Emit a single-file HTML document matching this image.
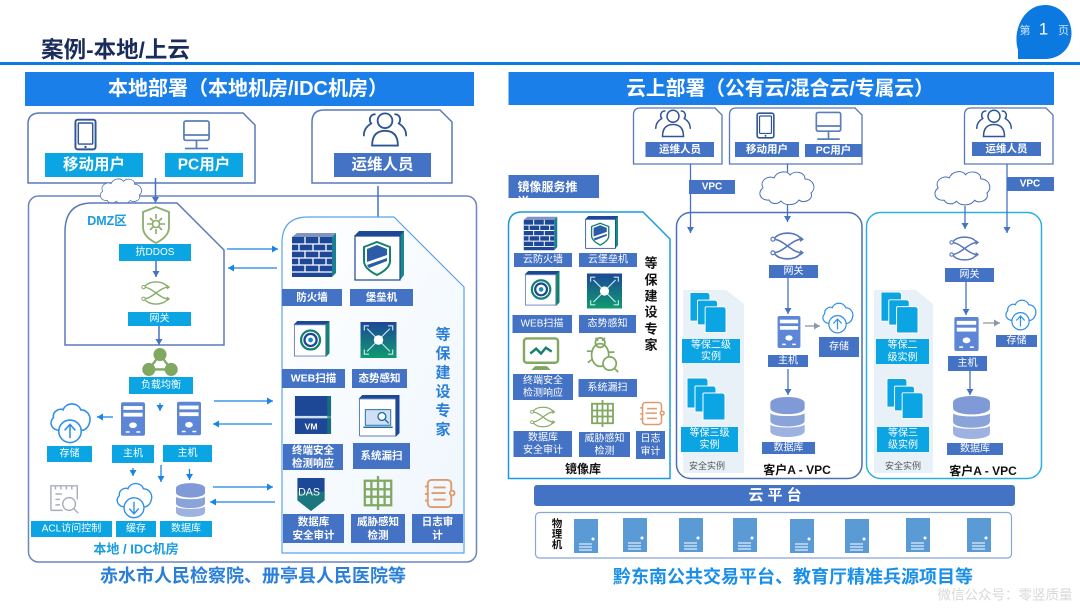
<!DOCTYPE html>
<html lang="zh"><head><meta charset="utf-8"><style>
html,body{margin:0;padding:0;background:#fff}
svg{display:block}
text{font-family:"Liberation Sans","Noto Sans CJK SC",sans-serif;text-anchor:middle;dominant-baseline:central}
.w{fill:#fff;font-size:10px}
.b{font-weight:700}
.m{fill:#fff;font-size:10.5px}
</style></head><body>
<svg width="1080" height="608" viewBox="0 0 1080 608" xmlns="http://www.w3.org/2000/svg">
<defs>
<marker id="a" markerUnits="userSpaceOnUse" markerWidth="8" markerHeight="8" refX="6" refY="3.5" orient="auto"><path d="M0 0L6 3.5L0 7z" fill="#1a84e6"/></marker>
<marker id="n" markerUnits="userSpaceOnUse" markerWidth="8" markerHeight="8" refX="6" refY="3.5" orient="auto"><path d="M0 0L6 3.5L0 7z" fill="#4472c4"/></marker>
<marker id="g" markerUnits="userSpaceOnUse" markerWidth="8" markerHeight="8" refX="6" refY="3.5" orient="auto"><path d="M0 0L6 3.5L0 7z" fill="#8a97a8"/></marker>
<linearGradient id="pane" x1="0" y1="0" x2="1" y2="1"><stop offset="0" stop-color="#fff"/><stop offset="1" stop-color="#eef6fd"/></linearGradient>
<symbol id="people" viewBox="0 0 50 40"><g fill="none" stroke="#2f5597" stroke-width="2"><circle cx="25" cy="11" r="8"/><path d="M11 38c0-12 6-16 14-16s14 4 14 16z"/><path d="M14 4c-5 0-7 6-4 10-5 3-8 7-8 13M36 4c5 0 7 6 4 10 5 3 8 7 8 13" stroke-linecap="round"/></g></symbol>
<symbol id="tablet" viewBox="0 0 24 34"><rect x="1.5" y="1.5" width="21" height="31" rx="2.5" fill="#fff" stroke="#2f5597" stroke-width="2"/><rect x="4.5" y="5" width="15" height="22" rx="1" fill="#fff" stroke="#2f5597" stroke-width="1.5"/><circle cx="12" cy="30" r="1.2" fill="#2f5597"/></symbol>
<symbol id="pc" viewBox="0 0 30 32"><g fill="none" stroke="#5b7fb8" stroke-width="1.8"><rect x="2" y="1.5" width="26" height="20" rx="2"/><path d="M2 16h26M15 22v7M3 30h24"/></g></symbol>
<symbol id="firewall" viewBox="0 0 46 46"><path d="M1 5L6 1H45L41 5z" fill="#7f95c0"/><path d="M41 5L45 1V41L41 45z" fill="#1a7f92"/><rect x="1" y="5" width="40" height="40" fill="#1d4797"/><path d="M1 12h40M1 19h40M1 26h40M1 33h40M1 40h40M14 5v7M28 5v7M8 12v7M22 12v7M35 12v7M14 19v7M28 19v7M8 26v7M22 26v7M35 26v7M14 33v7M28 33v7" stroke="#fff" stroke-width="1.3"/></symbol>
<symbol id="bastion" viewBox="0 0 50 50"><path d="M0 5L5 0H50V44L46 49H46V5z" fill="#1d4797"/><path d="M46 5L50 0V44L46 49z" fill="#178a8c"/><rect x="1" y="5" width="45" height="44" fill="#fff" stroke="#1d4797" stroke-width="1.2"/><path d="M23 11l13 5v14c0 6-7 11-13 14-6-3-13-8-13-14V16z" fill="#fff" stroke="#14806e" stroke-width="2"/><path d="M23 14l10 4v6l-20 7v-13z" fill="#2c5ca8"/><path d="M13 34l20-7v3l-18 7z" fill="#2c5ca8"/></symbol>
<symbol id="web" viewBox="0 0 38 38"><path d="M0 4L4 0H38V34L34 38V4z" fill="#1d4797"/><path d="M34 4L38 0V34L34 38z" fill="#14806e"/><rect x="1" y="4" width="33" height="33" fill="#fff" stroke="#6a85c0"/><circle cx="18" cy="20" r="10" fill="none" stroke="#14806e" stroke-width="2.4"/><circle cx="18" cy="20" r="6.4" fill="none" stroke="#1d4797" stroke-width="2.4"/><circle cx="18" cy="20" r="2.5" fill="#1589b8"/></symbol>
<symbol id="aware" viewBox="0 0 38 38"><defs><linearGradient id="gaw" x1="0" y1="0" x2="0" y2="1"><stop offset="0" stop-color="#1d4797"/><stop offset="1" stop-color="#0e9c6e"/></linearGradient></defs><rect width="38" height="38" fill="url(#gaw)"/><g stroke="#cfe6f4" stroke-width="1.2" fill="none"><path d="M19 19L7 7M19 19L31 7M19 19L7 31M19 19L31 31M4 9V4h5M34 9V4h-5M4 29v5h5M34 29v5h-5"/></g><circle cx="19" cy="19" r="5" fill="#fff"/></symbol>
<symbol id="vm" viewBox="0 0 38 40"><rect y="0" width="38" height="21" fill="#1d4797"/><rect y="21" width="38" height="2.5" fill="#cfe0ee"/><rect y="23.5" width="38" height="16.5" fill="#1d4797"/><path d="M34 0h4v40h-4z" fill="#14806e" opacity=".7"/><text x="17" y="32" font-size="9" font-weight="700" fill="#fff">VM</text></symbol>
<symbol id="scan" viewBox="0 0 42 43"><path d="M0 4L4 0H42V39L38 43V4z" fill="#1d4797"/><rect x="1" y="4" width="37" height="38" rx="1" fill="#fff" stroke="#5b7fb8"/><rect x="7" y="15" width="26" height="16" fill="#cfe0f5" stroke="#1d6fa5"/><path d="M5 33h30" stroke="#1d6fa5" stroke-width="1.6"/><circle cx="24" cy="22" r="4" fill="#fff" stroke="#1d6fa5" stroke-width="1.4"/><path d="M27 25l4 4" stroke="#1d6fa5" stroke-width="1.4"/></symbol>
<symbol id="das" viewBox="0 0 28 34"><path d="M0 0H28V23L14 34L0 23z" fill="#1d4797"/><path d="M0 14H28V23L14 34L0 23z" fill="#1d8a72" opacity=".7"/><text x="12" y="15" font-size="11" fill="#fff">DAS</text></symbol>
<symbol id="threat" viewBox="0 0 32 36"><g fill="none" stroke="#80a860" stroke-width="2.4"><rect x="2" y="5" width="28" height="26"/><path d="M16 0v36M9 5v26M23 5v26M2 14h6M2 22h6M24 14h6M24 22h6M10 14h12M10 22h12"/></g></symbol>
<symbol id="log" viewBox="0 0 33 33"><g fill="none" stroke="#e09a6c" stroke-width="2"><rect x="4" y="2" width="25" height="29" rx="4"/><path d="M10 10h13M8 16h15M10 23h13M1 9h4M1 17h4M1 24h4"/><circle cx="30" cy="16" r="2.5" fill="#fff"/></g></symbol>
<symbol id="shield" viewBox="0 0 30 38"><path d="M15 1l13 5v15c0 8-7 13-13 16C9 34 2 29 2 21V6z" fill="#fff" stroke="#8aad6c" stroke-width="1.8"/><circle cx="15" cy="18" r="3.5" fill="none" stroke="#8aad6c" stroke-width="1.6"/><path d="M15 8v5M15 23v5M6 18h5M19 18h5M9 12l3 3M21 12l-3 3M9 24l3-3M21 24l-3-3" stroke="#8aad6c" stroke-width="1.6"/></symbol>
<symbol id="gw" viewBox="0 0 36 30"><path d="M3 8C14 8 22 22 33 22M3 22C14 22 22 8 33 8M5 7C9 0 27 0 31 7M5 23C9 30 27 30 31 23" fill="none" stroke="currentColor" stroke-width="1.7"/><circle cx="3" cy="8" r="2" fill="#fff" stroke="currentColor" stroke-width="1.2"/><circle cx="3" cy="22" r="2" fill="#fff" stroke="currentColor" stroke-width="1.2"/><path d="M31 5l4 3-4 3zM31 19l4 3-4 3z" fill="currentColor"/></symbol>
<symbol id="lb" viewBox="0 0 38 30"><path d="M19 7L7 23H31z" fill="none" stroke="#80a860" stroke-width="2.5"/><circle cx="19" cy="7" r="7" fill="#80a860"/><circle cx="7" cy="23" r="7" fill="#80a860"/><circle cx="31" cy="23" r="7" fill="#80a860"/></symbol>
<symbol id="srv" viewBox="0 0 25 35"><rect width="25" height="35" rx="2" fill="#5d86d6"/><rect x="2.5" y="4" width="20" height="4" fill="#fff"/><rect x="2.5" y="11" width="20" height="4" fill="#fff"/><ellipse cx="12.5" cy="24" rx="4" ry="3" fill="#fff"/><path d="M5 31h4M16 31h4" stroke="#fff" stroke-width="1.6"/></symbol>
<symbol id="db" viewBox="0 0 36 42"><path d="M0 6a18 6 0 0 1 36 0v6a18 6 0 0 1-36 0z" fill="#7f9ad6"/><path d="M0 17c4 4 32 4 36 0v8c0 8-36 8-36 0z" fill="#8aa4da"/><path d="M0 29c4 4 32 4 36 0v7c0 8-36 8-36 0z" fill="#9db2e0"/></symbol>
<symbol id="cup" viewBox="0 0 44 44"><path d="M12 30C3 30 0 22 5 17 4 10 12 7 15 9 18 1 30 1 33 9 40 9 44 16 42 22 41 27 37 30 34 30" fill="#fff" stroke="#2f8fe8" stroke-width="1.6"/><circle cx="22" cy="31" r="11.5" fill="#fff" stroke="#2f8fe8" stroke-width="1.6"/><path d="M22 38V25M16.5 30l5.500-6 5.500 6" fill="none" stroke="#2f8fe8" stroke-width="1.6"/></symbol>
<symbol id="cdn" viewBox="0 0 44 44"><path d="M12 30C3 30 0 22 5 17 4 10 12 7 15 9 18 1 30 1 33 9 40 9 44 16 42 22 41 27 37 30 34 30" fill="#fff" stroke="#2f8fe8" stroke-width="1.6"/><circle cx="22" cy="31" r="11.500" fill="#fff" stroke="#2f8fe8" stroke-width="1.6"/><path d="M22 24V37M16.500 32l5.500 6 5.500-6" fill="none" stroke="#2f8fe8" stroke-width="1.6"/></symbol>
<symbol id="cloud" viewBox="0 0 60 38"><path d="M12 32C3 33 0 24 6 20 2 12 12 7 17 10 20 3 30 2 33 7 38 2 48 4 48 11 56 11 60 20 54 25 57 32 46 36 42 32 38 38 28 38 24 33 20 37 14 36 12 32Z" fill="#fff" stroke="#4a6fb5" stroke-width="1"/></symbol>
<symbol id="acl" viewBox="0 0 33 33"><g fill="none" stroke="#a8aec0" stroke-width="1.6"><path d="M1 29V2h29v15M1 29h13M6 2v4M12 2v4M18 2v4M24 2v4M6 11h7M6 17h5M6 23h5"/><circle cx="21" cy="22" r="7"/><path d="M26 27l5 5"/></g></symbol>
<symbol id="term" viewBox="0 0 38 36"><rect x="1.500" y="1.500" width="35" height="25" rx="3" fill="#fff" stroke="#80a860" stroke-width="2.500"/><path d="M8 17l6-5 5 5 5-6 6 4" fill="none" stroke="#14806e" stroke-width="2.500"/><path d="M13 30h12l4 4H9z" fill="#80a860"/></symbol>
<symbol id="bug" viewBox="0 0 34 40"><g fill="none" stroke="#80a860" stroke-width="1.800"><ellipse cx="14" cy="20" rx="9" ry="12"/><circle cx="14" cy="7" r="5"/><circle cx="24" cy="29" r="7" fill="#fff"/><path d="M9 2l3 3M19 2l-3 3M5 16H0M5 25l-4 3M29 34l4 4M23 17h6"/></g></symbol>
<symbol id="stack" viewBox="0 0 40 44"><g fill="#0aa5e2" stroke="#fff" stroke-width="1"><path d="M1 2q0-1 1-1h17q3 0 3 3v27H1z"/><path d="M9 10q0-1 1-1h17q3 0 3 3v23H9z"/><path d="M17 17q0-1 1-1h18q3 0 3 3v24H17z"/></g></symbol>
<symbol id="ps" viewBox="0 0 24 34"><rect width="24" height="34" fill="#5b9bd5"/><circle cx="19" cy="20" r="1.500" fill="#fff"/><path d="M5 25h13M5 28h13M5 31h13" stroke="#fff"/></symbol>
</defs>
<rect width="1080" height="608" fill="#fff"/>

<!-- top -->
<text x="115.500" y="50" font-size="22.500" class="b" fill="#1a2c5c">案例-本地/上云</text>
<rect y="62" width="1080" height="3" fill="#0b79e0"/>
<path d="M1018 58V50C1012 30 1024 5 1045 5C1062 5 1071.500 20 1071.500 33C1071.500 48 1060 59 1045 59H1018z" fill="#0b79e0"/>
<text x="1025" y="31" font-size="11" fill="#cfe6fa">第</text><text x="1043.500" y="29" font-size="17" fill="#fff">1</text><text x="1063.500" y="31" font-size="11" fill="#cfe6fa">页</text>

<!-- left header -->
<rect x="25" y="72" width="449" height="34" fill="#1a7fe8"/>
<text x="248" y="89" font-size="20" class="b" fill="#fff">本地部署（本地机房/IDC机房）</text>

<!-- user boxes -->
<path d="M28 183V124Q28 113 40 113H243L255 125V183z" fill="#fff" stroke="#5878bb" stroke-width="1.500"/>
<use href="#tablet" x="74" y="118" width="23" height="33"/>
<use href="#pc" x="182" y="119" width="29" height="32"/>
<rect x="45" y="153" width="98" height="24" fill="#0aa5e2"/><text x="94" y="165" font-size="15.500" class="b" fill="#fff">移动用户</text>
<rect x="165" y="153" width="78" height="24" fill="#0aa5e2"/><text x="204" y="165" font-size="15.500" class="b" fill="#fff">PC用户</text>
<path d="M312 183V122Q312 110 324 110H440L452 122V183z" fill="#fff" stroke="#5878bb" stroke-width="1.500"/>
<use href="#people" x="362" y="110" width="46" height="38"/>
<rect x="334" y="153" width="97" height="24" fill="#4472c4"/><text x="382.500" y="165" font-size="15.500" class="b" fill="#fff">运维人员</text>

<!-- main frame -->
<rect x="28.500" y="196" width="448" height="366" rx="10" fill="#fff" stroke="#6a85c0" stroke-width="1.500"/>
<use href="#cloud" x="92" y="176" width="58" height="29"/>
<line x1="155.500" y1="178" x2="155.500" y2="203" stroke="#4472c4" stroke-width="1.500" marker-end="url(#n)"/>
<line x1="378" y1="186" x2="378" y2="225" stroke="#4472c4" stroke-width="1.500" marker-end="url(#n)"/>

<!-- DMZ -->
<path d="M65 345V232Q65 203 92 203H177L224 250V345z" fill="#fff" stroke="#5878bb" stroke-width="1.500"/>
<text x="107" y="221" font-size="12.500" class="b" fill="#1a9be0">DMZ区</text>
<use href="#shield" x="141" y="206" width="30" height="38"/>
<rect x="119" y="244" width="72" height="17" fill="#0aa5e2"/><text x="155" y="252.500" class="w">抗DDOS</text>
<line x1="156" y1="261" x2="156" y2="277" stroke="#4472c4" stroke-width="1.500" marker-end="url(#n)"/>
<use href="#gw" x="141" y="280" width="30" height="26" color="#8aad6c"/>
<rect x="128" y="312" width="63" height="14" fill="#0aa5e2"/><text x="159.500" y="319" class="w">网关</text>
<line x1="159" y1="326" x2="159" y2="345" stroke="#4472c4" stroke-width="1.500" marker-end="url(#n)"/>
<use href="#lb" x="141" y="348" width="38" height="28"/>
<rect x="129" y="377" width="64" height="17" fill="#0aa5e2"/><text x="161" y="385.500" class="w">负载均衡</text>

<use href="#srv" x="121" y="402" width="24" height="34"/>
<use href="#srv" x="177" y="401" width="24" height="35"/>
<rect x="112" y="445" width="42" height="18" fill="#0aa5e2"/><text x="133" y="454" class="w">主机</text>
<rect x="163" y="445" width="49" height="17" fill="#0aa5e2"/><text x="187.500" y="453.500" class="w">主机</text>
<use href="#cup" x="48" y="401" width="44" height="43"/>
<rect x="47" y="446" width="45" height="16" fill="#0aa5e2"/><text x="69.500" y="454" class="w">存储</text>
<g stroke="#1a84e6" stroke-width="1.300" fill="none">
<line x1="113" y1="417" x2="97" y2="417" marker-end="url(#a)"/>
<line x1="160" y1="403" x2="160" y2="411" marker-end="url(#a)"/>
<line x1="133" y1="468" x2="133" y2="476" marker-end="url(#a)"/>
<line x1="161" y1="465" x2="161" y2="482" marker-end="url(#a)"/>
<line x1="189.500" y1="469" x2="189.500" y2="480" marker-end="url(#a)"/>
<line x1="227" y1="249" x2="278" y2="249" marker-end="url(#a)"/>
<line x1="277" y1="268" x2="228" y2="268" marker-end="url(#a)"/>
<line x1="214" y1="401" x2="273" y2="401" marker-end="url(#a)"/>
<line x1="272" y1="424" x2="213" y2="424" marker-end="url(#a)"/>
<line x1="213" y1="487" x2="273" y2="487" marker-end="url(#a)"/>
<line x1="275" y1="502" x2="210" y2="502" marker-end="url(#a)"/>
</g>
<use href="#acl" x="49" y="484" width="32" height="30"/>
<rect x="31" y="521" width="81" height="16" fill="#0aa5e2"/><text x="71.500" y="529" class="w">ACL访问控制</text>
<use href="#cdn" x="113" y="481" width="42" height="38"/>
<rect x="116" y="521" width="40" height="16" fill="#0aa5e2"/><text x="136" y="529" class="w">缓存</text>
<use href="#db" x="176" y="483" width="29" height="34"/>
<rect x="160" y="521" width="52" height="16" fill="#0aa5e2"/><text x="186" y="529" class="w">数据库</text>
<text x="136" y="549" font-size="13" class="b" fill="#1a9be0">本地 / IDC机房</text>

<!-- security pane left -->
<path d="M282 553V243Q282 217 308 217H394L464 287V553z" fill="url(#pane)" stroke="#5aa5e8" stroke-width="1.200"/>
<use href="#firewall" x="291" y="232" width="46" height="46"/>
<use href="#bastion" x="354" y="231" width="50" height="50"/>
<rect x="282" y="289" width="60" height="17" fill="#4472c4"/><text x="312" y="297.500" class="m b">防火墙</text>
<rect x="350" y="289" width="63" height="17" fill="#4472c4"/><text x="381.500" y="297.500" class="m b">堡垒机</text>
<use href="#web" x="293" y="321" width="37" height="36"/>
<use href="#aware" x="360" y="322" width="37" height="36"/>
<rect x="282" y="369" width="63" height="19" fill="#4472c4"/><text x="313.500" y="378.500" class="m b">WEB扫描</text>
<rect x="352" y="369" width="55" height="19" fill="#4472c4"/><text x="379.500" y="378.500" class="m b">态势感知</text>
<use href="#vm" x="294" y="396" width="38" height="38"/>
<use href="#scan" x="358" y="395" width="42" height="42"/>
<rect x="283" y="444" width="60" height="26" fill="#4472c4"/><text x="313" y="450.500" class="m b">终端安全</text><text x="313" y="463.500" class="m b">检测响应</text>
<rect x="353" y="443" width="57" height="26" fill="#4472c4"/><text x="381.500" y="456" class="m b">系统漏扫</text>
<use href="#das" x="297" y="478" width="28" height="33"/>
<use href="#threat" x="362" y="476" width="32" height="34"/>
<use href="#log" x="423" y="478" width="33" height="31"/>
<rect x="283" y="514" width="61" height="29" fill="#4472c4"/><text x="313.500" y="522" class="m b">数据库</text><text x="313.500" y="535.500" class="m b">安全审计</text>
<rect x="351" y="514" width="54" height="29" fill="#4472c4"/><text x="378" y="522" class="m b">威胁感知</text><text x="378" y="535.500" class="m b">检测</text>
<rect x="412" y="514" width="51" height="29" fill="#4472c4"/><text x="437.500" y="522" class="m b">日志审</text><text x="437.500" y="535.500" class="m b">计</text>
<g font-size="15" class="b" fill="#2a7fd8"><text x="443" y="335">等</text><text x="443" y="354">保</text><text x="443" y="373">建</text><text x="443" y="392">设</text><text x="443" y="411">专</text><text x="443" y="430">家</text></g>

<text x="253" y="576" font-size="18" class="b" fill="#2a7fd8">赤水市人民检察院、册亭县人民医院等</text>

<!-- right header -->
<rect x="508.500" y="72" width="545.500" height="33" fill="#1a7fe8"/>
<text x="780" y="89" font-size="19.800" class="b" fill="#fff">云上部署（公有云/混合云/专属云）</text>

<!-- right user boxes -->
<path d="M633.500 164V115Q633.500 108 640 108H715L722 115V164z" fill="#fff" stroke="#5878bb" stroke-width="1.300"/>
<use href="#people" x="654" y="108" width="38" height="30"/>
<rect x="645.500" y="142" width="68.500" height="15" fill="#4472c4"/><text x="680" y="149.500" class="m b">运维人员</text>
<path d="M729.500 164V115Q729.500 108 736 108H855L862 115V164z" fill="#fff" stroke="#5878bb" stroke-width="1.300"/>
<use href="#tablet" x="752" y="112" width="27" height="27"/>
<use href="#pc" x="810" y="111" width="37" height="30"/>
<rect x="735" y="142" width="64" height="15" fill="#4472c4"/><text x="767" y="149.500" class="m b">移动用户</text>
<rect x="805" y="144" width="57" height="13" fill="#4472c4"/><text x="833.500" y="150.500" class="m b">PC用户</text>
<path d="M964.500 164V115Q964.500 108 971 108H1046L1053 115V164z" fill="#fff" stroke="#5878bb" stroke-width="1.300"/>
<use href="#people" x="975" y="108" width="38" height="30"/>
<rect x="972" y="142" width="69" height="14" fill="#4472c4"/><text x="1006.500" y="149" class="m b">运维人员</text>

<!-- mirror label -->
<svg x="508.500" y="175" width="90.500" height="23" viewBox="0 0 90.500 23"><rect width="90.500" height="23" fill="#4472c4"/><text x="9" y="12" font-size="12" class="b" fill="#fff" style="text-anchor:start">镜像服务推</text><text x="9" y="27" font-size="12" class="b" fill="#fff" style="text-anchor:start">送</text></svg>

<!-- panels -->
<path d="M508.500 478.500V226Q508.500 212 522 212H643L670 239V478.500z" fill="#fff" stroke="#1a9be0" stroke-width="1.500"/>
<rect x="676.500" y="212.500" width="185.500" height="266" rx="14" fill="#fff" stroke="#4a6fb5" stroke-width="1.500"/>
<rect x="866.500" y="212.500" width="175" height="266" rx="14" fill="#fff" stroke="#2ab0e0" stroke-width="1.500"/>

<line x1="690.500" y1="164" x2="690.500" y2="233" stroke="#4472c4" stroke-width="1.300" marker-end="url(#n)"/>
<rect x="689" y="180" width="46" height="14" fill="#4472c4"/><text x="712" y="187" font-size="10" class="b" fill="#fff">VPC</text>
<line x1="787.500" y1="164" x2="787.500" y2="172" stroke="#4472c4" stroke-width="1.300"/>
<use href="#cloud" x="757" y="168" width="60" height="38"/>
<line x1="787.500" y1="205" x2="787.500" y2="222" stroke="#4472c4" stroke-width="1.300" marker-end="url(#n)"/>
<use href="#cloud" x="932" y="167" width="61" height="40"/>
<line x1="965" y1="206" x2="965" y2="229" stroke="#4472c4" stroke-width="1.300" marker-end="url(#n)"/>
<line x1="1007" y1="164" x2="1007" y2="233" stroke="#4472c4" stroke-width="1.300" marker-end="url(#n)"/>
<rect x="1007" y="177" width="47" height="14" fill="#4472c4"/><text x="1030" y="184" font-size="10" class="b" fill="#fff">VPC</text>

<!-- mirror contents -->
<use href="#firewall" x="522" y="216" width="37" height="35"/>
<use href="#bastion" x="584" y="216" width="35" height="33"/>
<rect x="514" y="253" width="58" height="14" fill="#4472c4"/><text x="543" y="260" class="w">云防火墙</text>
<rect x="579" y="253" width="58" height="14" fill="#4472c4"/><text x="608" y="260" class="w">云堡垒机</text>
<use href="#web" x="524" y="271" width="36" height="35"/>
<use href="#aware" x="587" y="273" width="35" height="36"/>
<rect x="512.500" y="315" width="59.500" height="18" fill="#4472c4"/><text x="542" y="324" class="w">WEB扫描</text>
<rect x="579" y="315" width="57" height="18" fill="#4472c4"/><text x="607.500" y="324" class="w">态势感知</text>
<use href="#term" x="522" y="337" width="38" height="35"/>
<use href="#bug" x="586" y="336" width="34" height="38"/>
<rect x="513" y="374" width="60" height="26" fill="#4472c4"/><text x="543" y="381" class="w">终端安全</text><text x="543" y="393.500" class="w">检测响应</text>
<rect x="578.500" y="379" width="58.500" height="18" fill="#4472c4"/><text x="607.500" y="388" class="w">系统漏扫</text>
<use href="#gw" x="529" y="406" width="28" height="22" color="#8aad6c"/>
<use href="#threat" x="589" y="400" width="27" height="27"/>
<use href="#log" x="639" y="401" width="26" height="25"/>
<rect x="513.500" y="431" width="58.500" height="26" fill="#4472c4"/><text x="543" y="438" class="w">数据库</text><text x="543" y="450.500" class="w">安全审计</text>
<rect x="579" y="432" width="51" height="25" fill="#4472c4"/><text x="604.500" y="439" class="w">威胁感知</text><text x="604.500" y="451.500" class="w">检测</text>
<rect x="636" y="431" width="29" height="28" fill="#4472c4"/><text x="650.500" y="439" class="w">日志</text><text x="650.500" y="452" class="w">审计</text>
<text x="583" y="469" font-size="12" class="b" fill="#111">镜像库</text>
<g font-size="13" class="b" fill="#111"><text x="651" y="263">等</text><text x="651" y="280">保</text><text x="651" y="296">建</text><text x="651" y="312">设</text><text x="651" y="329">专</text><text x="651" y="345">家</text></g>

<!-- VPC A -->
<path d="M683 473V290H726L744 304V473z" fill="#e8f0f8"/>
<use href="#stack" x="689" y="291" width="38" height="43"/>
<rect x="682" y="339" width="58" height="24" fill="#0aa5e2"/><text x="711" y="345.500" class="w">等保二级</text><text x="711" y="357" class="w">实例</text>
<use href="#stack" x="686" y="377" width="40" height="44"/>
<rect x="681" y="427" width="57" height="25" fill="#0aa5e2"/><text x="709.500" y="433.500" class="w">等保三级</text><text x="709.500" y="445.500" class="w">实例</text>
<text x="707" y="466" font-size="9" fill="#555">安全实例</text>
<use href="#gw" x="770" y="231" width="35" height="30" color="#5878bb"/>
<rect x="769" y="265" width="49" height="13" fill="#4472c4"/><text x="793.500" y="271.500" class="w">网关</text>
<line x1="788" y1="278" x2="788" y2="314" stroke="#4472c4" stroke-width="1.300" marker-end="url(#n)"/>
<use href="#srv" x="775" y="316" width="28" height="32"/>
<rect x="768" y="355" width="40" height="12" fill="#4472c4"/><text x="788" y="361" class="w">主机</text>
<line x1="805" y1="326" x2="820" y2="326" stroke="#8a97a8" stroke-width="1.300" marker-end="url(#g)"/>
<use href="#cup" x="819" y="301" width="37" height="33"/>
<rect x="819" y="337" width="40" height="20" fill="#4472c4"/><text x="839" y="347" class="w">存储</text>
<line x1="788" y1="369" x2="788" y2="395" stroke="#4472c4" stroke-width="1.300" marker-end="url(#n)"/>
<use href="#db" x="770" y="397" width="35" height="40"/>
<rect x="762" y="442" width="53" height="12" fill="#4472c4"/><text x="788.500" y="448" class="w">数据库</text>
<text x="797" y="470" font-size="12" class="b" fill="#111">客户A - VPC</text>

<!-- VPC B -->
<path d="M874 473V290H916L933 304V473z" fill="#e8f0f8"/>
<use href="#stack" x="880" y="291" width="39" height="43"/>
<rect x="876" y="339" width="53" height="25" fill="#0aa5e2"/><text x="902.500" y="345.500" class="w">等保二</text><text x="902.500" y="358" class="w">级实例</text>
<use href="#stack" x="886" y="377" width="38" height="43"/>
<rect x="877" y="427" width="52" height="25" fill="#0aa5e2"/><text x="903" y="433.500" class="w">等保三</text><text x="903" y="445.500" class="w">级实例</text>
<text x="903" y="466" font-size="9" fill="#555">安全实例</text>
<use href="#gw" x="949" y="234" width="31" height="29" color="#5878bb"/>
<rect x="945" y="268" width="49" height="14" fill="#4472c4"/><text x="969.500" y="275" class="w">网关</text>
<line x1="966" y1="282" x2="966" y2="315" stroke="#4472c4" stroke-width="1.300" marker-end="url(#n)"/>
<use href="#srv" x="952" y="317" width="29" height="34"/>
<rect x="948" y="356" width="39" height="15" fill="#4472c4"/><text x="967.500" y="363.500" class="w">主机</text>
<line x1="983" y1="323" x2="1000" y2="323" stroke="#8a97a8" stroke-width="1.300" marker-end="url(#g)"/>
<use href="#cup" x="1002" y="298" width="37" height="33"/>
<rect x="996" y="335" width="41" height="12" fill="#4472c4"/><text x="1016.500" y="341" class="w">存储</text>
<line x1="970" y1="371" x2="970" y2="395" stroke="#4472c4" stroke-width="1.300" marker-end="url(#n)"/>
<use href="#db" x="952" y="396" width="39" height="43"/>
<rect x="947" y="443" width="56" height="12" fill="#4472c4"/><text x="975" y="449" class="w">数据库</text>
<text x="983" y="471" font-size="12" class="b" fill="#111">客户A - VPC</text>

<!-- platform -->
<rect x="534" y="485" width="481" height="21" rx="3" fill="#4472c4"/>
<text x="775" y="495.500" font-size="15" class="b" fill="#fff">云 平 台</text>
<rect x="535.500" y="512.500" width="476" height="45.500" rx="4" fill="#fff" stroke="#8aa5d8" stroke-width="1.200"/>
<g font-size="10.500" class="b" fill="#111"><text x="557" y="524">物</text><text x="557" y="534.500">理</text><text x="557" y="545">机</text></g>
<use href="#ps" x="574" y="519" width="24" height="34"/>
<use href="#ps" x="623" y="518" width="24" height="34"/>
<use href="#ps" x="679" y="518" width="24" height="34"/>
<use href="#ps" x="733" y="518" width="24" height="34"/>
<use href="#ps" x="790" y="519" width="24" height="34"/>
<use href="#ps" x="845" y="519" width="24" height="34"/>
<use href="#ps" x="906" y="518" width="24" height="34"/>
<use href="#ps" x="967" y="518" width="24" height="34"/>

<text x="793" y="577" font-size="18" class="b" fill="#1a8fe8">黔东南公共交易平台、教育厅精准兵源项目等</text>
<text x="1005" y="595" font-size="13.500" fill="#d8d8d8">微信公众号：零竖质量</text>
</svg>
</body></html>
